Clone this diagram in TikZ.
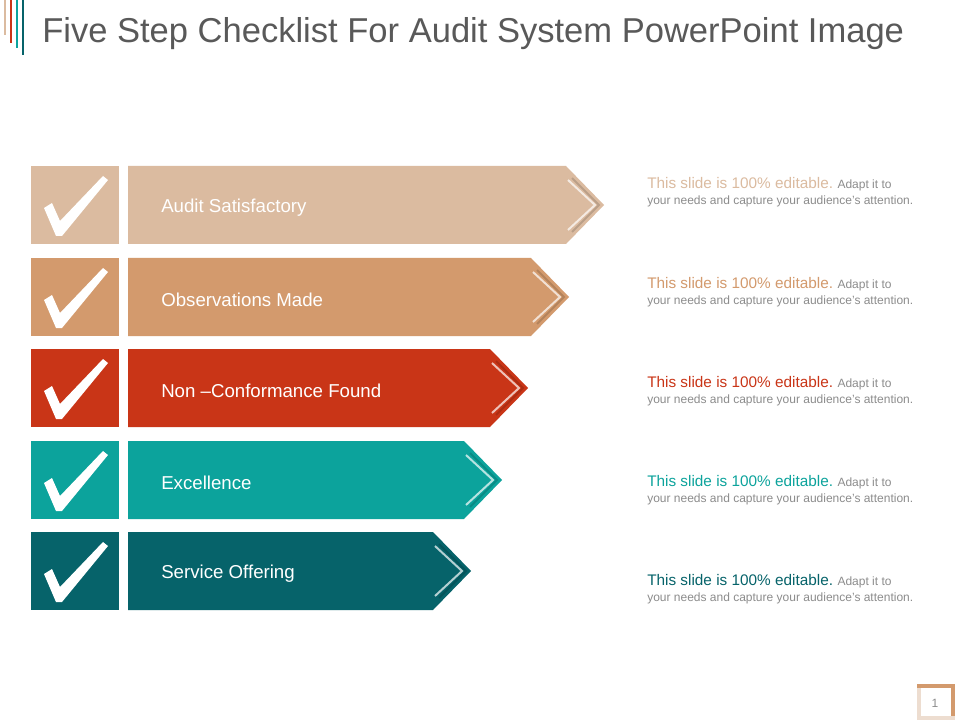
\documentclass[tikz,border=0pt]{standalone}
\usepackage{fontspec}
\setmainfont{Liberation Sans}
\definecolor{cA}{HTML}{DBBBA0}
\definecolor{cB}{HTML}{D39A6D}
\definecolor{cC}{HTML}{C93517}
\definecolor{cD}{HTML}{0CA39C}
\definecolor{cE}{HTML}{06636A}
\definecolor{tgray}{HTML}{595959}
\definecolor{lgray}{HTML}{8C8C8C}
\begin{document}
\begin{tikzpicture}[x=0.75pt,y=-0.75pt,
  lbl/.style={anchor=west,text=white,font=\fontsize{14}{16}\selectfont,inner sep=0pt},
  desc/.style={anchor=north west,align=left,text=lgray,font=\fontsize{9}{12}\selectfont,inner sep=0pt}]
\path[use as bounding box] (0,0) rectangle (960,720);
\fill[white] (0,0) rectangle (960,720);
% logo lines
\draw[cA,line width=1.8pt] (5,0) -- (5,35);
\draw[cC,line width=1.8pt] (11,0) -- (11,43);
\draw[cD,line width=1.8pt] (17,0) -- (17,48);
\draw[cE,line width=1.8pt] (23,0) -- (23,55);
\node[anchor=west,text=tgray,font=\fontsize{25.9}{30}\selectfont,inner sep=0pt] (title) at (42,34) {Five Step Checklist For Audit System PowerPoint Image};
\foreach \i/\yt/\re/\col/\txt in {
 1/166/566/cA/Audit Satisfactory,
 2/258/531/cB/Observations Made,
 3/349/490/cC/Non –Conformance Found,
 4/441/464/cD/Excellence,
 5/532/433/cE/Service Offering}{
  \pgfmathsetmacro{\yb}{\yt+78}
  \pgfmathsetmacro{\ym}{\yt+39}
  \pgfmathsetmacro{\tip}{\re+38}
  \pgfmathsetmacro{\yd}{177.5+99.25*(\i-1)}
  \fill[\col] (31,\yt) rectangle (119,\yb);
  \fill[white] (44,\yt+42) -- (52,\yt+37) -- (60,\yt+55) -- (103,\yt+10) -- (108,\yt+14) -- (62,\yt+70) -- (56,\yt+70) -- cycle;
  \fill[\col] (128,\yt) -- (\re,\yt) -- (\tip,\ym) -- (\re,\yb) -- (128,\yb) -- cycle;
  \draw[white,opacity=0.7,line width=1.5pt] (\re+2,\yt+14) -- (\tip-9,\ym) -- (\re+2,\yb-14);
  \draw[black,opacity=0.15,line width=1.5pt] (\re+6,\yt+12) -- (\tip-5,\ym) -- (\re+6,\yb-12);
  \node[lbl] (l\i) at (161,\ym+3) {\txt};
  \node[desc] (d\i) at (647,\yd) {{\fontsize{11.5}{12}\selectfont\color{\col}This slide is 100\% editable.} Adapt it to\\your needs and capture your audience's attention.};
}
% page number
\fill[cA!50] (917,684) rectangle (955,720);
\fill[white] (921,688) rectangle (951,716);
\fill[cB] (917,684) rectangle (955,688);
\fill[cB] (951,684) rectangle (955,716);
\node[text=lgray,font=\fontsize{9}{10}\selectfont] (pg) at (935,703) {1};
\end{tikzpicture}
\end{document}
